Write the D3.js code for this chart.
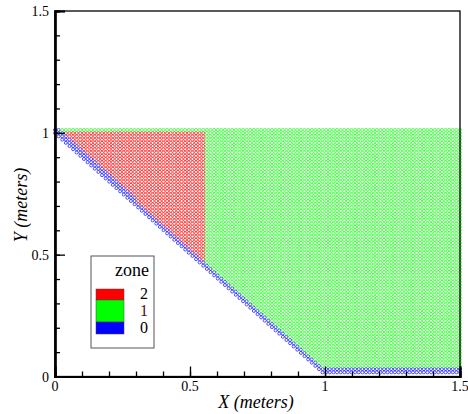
<!DOCTYPE html>
<html><head><meta charset="utf-8">
<script src="https://cdn.jsdelivr.net/npm/d3@7"></script>
<style>html,body{margin:0;padding:0;background:#fff;}svg{display:block;}</style>
</head><body>
<svg id="c" width="468" height="414"></svg>
<script>
// ---- data ----
const xTicks = [0, 0.5, 1, 1.5];
const yTicks = [0, 0.5, 1, 1.5];
const xTickLabels = ["0", "0.5", "1", "1.5"];
const yTickLabels = ["0", "0.5", "1", "1.5"];
const zoneNames = ["2", "1", "0"];
const zoneColors = ["#ff0000", "#00ff00", "#0000ff"];
// mesh nodes: x range, y range (bottom row, top row), number of columns / rows
const meshX = [0, 1.5];
const meshY = [0.017, 1.012];
const meshCols = 113;
const meshRows = 76;
// zone 2 occupies x below this value (below the top row)
const zone2MaxX = [0.555];
// boundary (zone 0): diagonal x + y = 1, band width in nodes, bottom rows
const diagonal = [1.0];
const bandNodes = [2.1];
const bottomRows = [2];

const svg = d3.select("#c");
const x = d3.scaleLinear().domain([0, 1.5]).range([55, 460]);
const y = d3.scaleLinear().domain([0, 1.5]).range([376.5, 11]);

// build mesh nodes and zones
const hx = (meshX[1] - meshX[0]) / (meshCols - 1);
const hy = (meshY[1] - meshY[0]) / (meshRows - 1);
const nodes = [];
for (let j = 0; j < meshRows; j++) {
  for (let i = 0; i < meshCols; i++) {
    const px = meshX[0] + i * hx, py = meshY[0] + j * hy;
    const d = px + py - diagonal[0];
    if (d < -hx * 0.3) continue;
    let z;
    if (d < bandNodes[0] * hx || (j < bottomRows[0])) z = 2;
    else if (px < zone2MaxX[0] && j < meshRows - 1) z = 0;
    else z = 1;
    nodes.push({x: px, y: py, z});
  }
}

const serif = "'Liberation Serif','Times New Roman',serif";

svg.append("g").selectAll("circle").data(nodes).join("circle")
  .attr("cx", d => x(d.x)).attr("cy", d => y(d.y)).attr("r", 1.5)
  .attr("fill", "none").attr("stroke", d => zoneColors[d.z])
  .attr("stroke-width", 0.9).attr("stroke-opacity", d => d.z === 1 ? 0.7 : 0.75);

// frame
svg.append("rect").attr("x", x(0)).attr("y", y(1.5))
  .attr("width", x(1.5) - x(0)).attr("height", y(0) - y(1.5))
  .attr("fill", "none").attr("stroke", "#000").attr("stroke-width", 1.3);

// axes with inward ticks
const xMinor = d3.range(0, 1.5001, 0.1);
const yMinor = d3.range(0, 1.5001, 0.1);
const gx = svg.append("g").attr("transform", `translate(0,${y(0)})`);
gx.call(d3.axisTop(x).tickValues(xMinor).tickSize(5).tickFormat(""));
gx.append("g").call(d3.axisTop(x).tickValues(xTicks).tickSize(10).tickFormat(""));
gx.selectAll("path.domain").attr("stroke-width", 2.2);
gx.selectAll(".tick line").attr("stroke-width", 1.3);
const gy = svg.append("g").attr("transform", `translate(${x(0)},0)`);
gy.call(d3.axisRight(y).tickValues(yMinor).tickSize(5).tickFormat(""));
gy.append("g").call(d3.axisRight(y).tickValues(yTicks).tickSize(10).tickFormat(""));
gy.selectAll("path.domain").attr("stroke-width", 2.2);
gy.selectAll(".tick line").attr("stroke-width", 1.3);

// tick labels
svg.append("g").selectAll("text").data(xTicks).join("text")
  .attr("x", d => x(d)).attr("y", 391).attr("text-anchor", "middle")
  .attr("font-family", serif).attr("font-size", 14).text((d, i) => xTickLabels[i]);
svg.append("g").selectAll("text").data(yTicks).join("text")
  .attr("x", 49).attr("y", d => y(d) + 5).attr("text-anchor", "end")
  .attr("font-family", serif).attr("font-size", 14).text((d, i) => yTickLabels[i]);

// axis titles
svg.append("text").attr("x", 256).attr("y", 408).attr("text-anchor", "middle")
  .attr("font-family", serif).attr("font-size", 18).attr("font-style", "italic")
  .text("X (meters)");
svg.append("text").attr("transform", "translate(27,205) rotate(-90)")
  .attr("text-anchor", "middle").attr("font-family", serif).attr("font-size", 18)
  .attr("font-style", "italic").text("Y (meters)");

// legend
const lg = svg.append("g");
lg.append("rect").attr("x", 91).attr("y", 256).attr("width", 63).attr("height", 92)
  .attr("fill", "#fff").attr("stroke", "#555").attr("stroke-width", 1);
lg.append("text").attr("x", 149).attr("y", 276).attr("text-anchor", "end")
  .attr("font-family", serif).attr("font-size", 18).text("zone");
const sw = [[289, 300], [300, 322], [322, 334]];
const lblY = [299, 316, 333];
zoneNames.forEach((n, i) => {
  lg.append("rect").attr("x", 96).attr("y", sw[i][0]).attr("width", 28)
    .attr("height", sw[i][1] - sw[i][0]).attr("fill", zoneColors[i])
    .attr("stroke", "#444").attr("stroke-width", 0.5);
  lg.append("text").attr("x", 144).attr("y", lblY[i]).attr("text-anchor", "middle")
    .attr("font-family", serif).attr("font-size", 16)
    .attr("fill", i === 1 ? "#4a0c0c" : "#000").text(n);
});
</script>
</body></html>
